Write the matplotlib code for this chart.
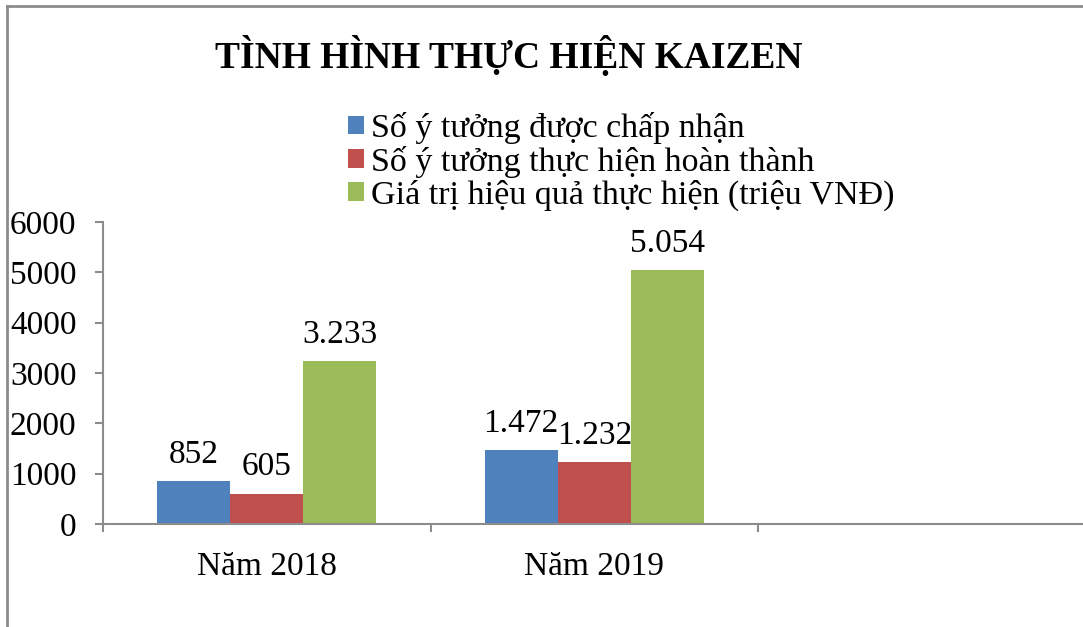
import numpy as np
import matplotlib.pyplot as plt
from matplotlib.patches import Patch

plt.rcParams['font.family'] = ['Liberation Serif', 'DejaVu Serif']

# Dữ liệu
categories = ["Năm 2018", "Năm 2019", ""]
series_names = ["Số ý tưởng được chấp nhận",
                "Số ý tưởng thực hiện hoàn thành",
                "Giá trị hiệu quả thực hiện (triệu VNĐ)"]
accepted = [852, 1472]
completed = [605, 1232]
value_mvnd = [3233, 5054]
colors = ["#4f81bd", "#c0504d", "#9bbb59"]
grey = "#8c8c8c"

fig = plt.figure(figsize=(10.83, 6.27), dpi=100)
ax = fig.add_axes([103 / 1083, 1 - 524 / 627, 982.5 / 1083, 302 / 627])

width = 0.223
x = np.arange(2)
for i, vals in enumerate([accepted, completed, value_mvnd]):
    bars = ax.bar(x + (i - 1) * width, vals, width, color=colors[i],
                  label=series_names[i])
    for b, v in zip(bars, vals):
        txt = f"{v:,}".replace(",", ".")
        ax.annotate(txt, (b.get_x() + b.get_width() / 2, v),
                    xytext=(0, 8), textcoords="offset points",
                    ha="center", va="bottom", fontsize=24)

ax.set_xlim(-0.5, 2.5)
ax.set_ylim(0, 6000)
ax.set_yticks(range(0, 6001, 1000))
ax.set_xticks(range(3))
ax.set_xticklabels(categories)
ax.set_xticks([-0.5, 0.5, 1.5, 2.5], minor=True)
ax.tick_params(axis="x", which="major", length=0, pad=20, labelsize=24)
ax.tick_params(axis="x", which="minor", length=6, width=1.5, color=grey)
ax.tick_params(axis="y", length=6, width=1.5, color=grey, pad=13, labelsize=24)

for s in ["top", "right"]:
    ax.spines[s].set_visible(False)
for s in ["left", "bottom"]:
    ax.spines[s].set_color(grey)
    ax.spines[s].set_linewidth(1.5)

fig.text(509 / 1083, 1 - 55 / 627, "TÌNH HÌNH THỰC HIỆN KAIZEN",
         ha="center", va="center", fontsize=27, fontweight="bold")

handles = [Patch(facecolor=c) for c in colors]
fig.legend(handles, series_names, loc="upper left",
           bbox_to_anchor=(348 / 1083, 1 - 112 / 627), frameon=False,
           fontsize=24.5, handlelength=0.47, handleheight=0.47,
           handletextpad=0.2, labelspacing=0.05, borderpad=0,
           borderaxespad=0)

# khung bao quanh biểu đồ
fig.add_artist(plt.Line2D([7 / 1083, 7 / 1083], [0, 1 - 6 / 627],
                          color=grey, lw=2, transform=fig.transFigure))
fig.add_artist(plt.Line2D([7 / 1083, 1], [1 - 6 / 627, 1 - 6 / 627],
                          color=grey, lw=2, transform=fig.transFigure))

fig.savefig("out.png", dpi=100)
